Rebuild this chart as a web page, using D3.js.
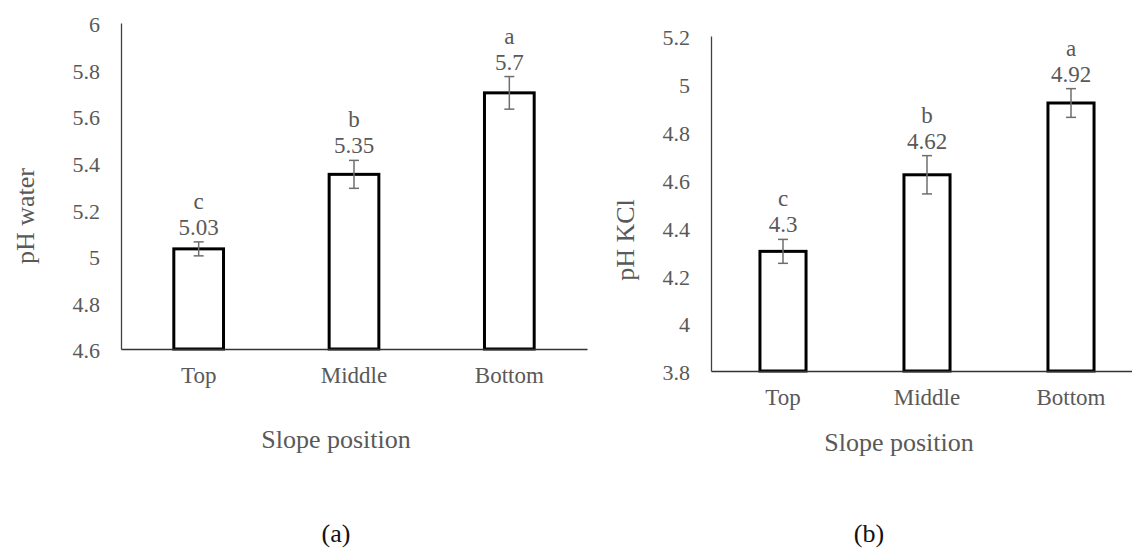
<!DOCTYPE html>
<html>
<head>
<meta charset="utf-8">
<script src="https://cdn.jsdelivr.net/npm/d3@7"></script>
<style>
  html, body { margin: 0; padding: 0; background: #fff; }
  svg text { font-family: "Liberation Serif", "Times New Roman", serif !important; fill: #595959; }
</style>
</head>
<body>
<svg id="chart" width="1132" height="549"></svg>
<script>
// Slope positions shared by both panels
const categories = ["Top", "Middle", "Bottom"];

// Panel (a): soil pH in water
const phWater = [5.03, 5.35, 5.7];
const phWaterErr = [0.03, 0.06, 0.07];
const phWaterLetters = ["c", "b", "a"];
const phWaterTicks = [4.6, 4.8, 5.0, 5.2, 5.4, 5.6, 5.8, 6.0];

// Panel (b): soil pH in KCl
const phKcl = [4.3, 4.62, 4.92];
const phKclErr = [0.05, 0.08, 0.06];
const phKclLetters = ["c", "b", "a"];
const phKclTicks = [3.8, 4.0, 4.2, 4.4, 4.6, 4.8, 5.0, 5.2];

const SERIF = '"Liberation Serif", "Times New Roman", serif';
const svg = d3.select("#chart");

const panels = [
  {
    values: phWater, errs: phWaterErr, letters: phWaterLetters, ticks: phWaterTicks,
    yTitle: "pH water", caption: "(a)",
    x0: 121, x1: 587, yTop: 23, yBase: 349,
    yTitleX: 25, yTitleY: 216, xTitleX: 336, xTitleY: 439, captionX: 336, captionY: 533
  },
  {
    values: phKcl, errs: phKclErr, letters: phKclLetters, ticks: phKclTicks,
    yTitle: "pH KCl", caption: "(b)",
    x0: 711, x1: 1143, yTop: 36, yBase: 371,
    yTitleX: 625, yTitleY: 240, xTitleX: 899, xTitleY: 442, captionX: 869, captionY: 533
  }
];

const fmt = d => String(+d.toFixed(1));

panels.forEach(p => {
  const g = svg.append("g").style("font-family", SERIF);

  const x = d3.scaleBand()
    .domain(categories)
    .range([p.x0, p.x1])
    .paddingInner(0.68)
    .paddingOuter(0.34);

  const y = d3.scaleLinear()
    .domain([p.ticks[0], p.ticks[p.ticks.length - 1]])
    .range([p.yBase, p.yTop]);

  // Y axis: plain line with numeric labels, no tick marks
  const yAxis = g.append("g")
    .attr("transform", `translate(${p.x0},0)`)
    .call(d3.axisLeft(y).tickValues(p.ticks).tickFormat(fmt).tickSize(0).tickPadding(21));
  yAxis.attr("font-family", null);
  yAxis.select(".domain").attr("stroke", "#404040").attr("stroke-width", 1.3);
  yAxis.selectAll("text")
    .attr("font-size", 22)
    .attr("dy", "0.4em")
    .style("font-family", SERIF);

  // Bars: white fill with heavy black outline
  g.selectAll("rect.bar")
    .data(p.values)
    .join("rect")
    .attr("class", "bar")
    .attr("x", (d, i) => x(categories[i]))
    .attr("width", x.bandwidth())
    .attr("y", d => y(d))
    .attr("height", d => y.range()[0] - y(d))
    .attr("fill", "#fff")
    .attr("stroke", "#000")
    .attr("stroke-width", 3);

  // X axis baseline with category labels
  const xAxis = g.append("g")
    .attr("transform", `translate(0,${p.yBase})`)
    .call(d3.axisBottom(x).tickSize(0).tickPadding(18));
  xAxis.attr("font-family", null);
  xAxis.select(".domain").attr("stroke", "#333").attr("stroke-width", 1.5);
  xAxis.selectAll("text")
    .attr("font-size", 23)
    .attr("dy", "0.71em")
    .style("font-family", SERIF);

  // Error bars
  const cap = 5;
  const eb = g.selectAll("g.err")
    .data(p.values.map((v, i) => ({ v, e: p.errs[i], c: categories[i] })))
    .join("g")
    .attr("class", "err")
    .attr("stroke", "#6e6e6e")
    .attr("stroke-width", 1.5);
  eb.append("line")
    .attr("x1", d => x(d.c) + x.bandwidth() / 2)
    .attr("x2", d => x(d.c) + x.bandwidth() / 2)
    .attr("y1", d => y(d.v + d.e))
    .attr("y2", d => y(d.v - d.e));
  eb.append("line")
    .attr("x1", d => x(d.c) + x.bandwidth() / 2 - cap)
    .attr("x2", d => x(d.c) + x.bandwidth() / 2 + cap)
    .attr("y1", d => y(d.v + d.e))
    .attr("y2", d => y(d.v + d.e));
  eb.append("line")
    .attr("x1", d => x(d.c) + x.bandwidth() / 2 - cap)
    .attr("x2", d => x(d.c) + x.bandwidth() / 2 + cap)
    .attr("y1", d => y(d.v - d.e))
    .attr("y2", d => y(d.v - d.e));

  // Value labels and significance letters above each error bar
  p.values.forEach((v, i) => {
    const cx = x(categories[i]) + x.bandwidth() / 2;
    const top = y(v + p.errs[i]);
    g.append("text")
      .attr("x", cx).attr("y", top - 14.5)
      .attr("text-anchor", "middle")
      .attr("dominant-baseline", "central")
      .attr("font-size", 23)
      .text(String(v));
    g.append("text")
      .attr("x", cx).attr("y", top - 40.5)
      .attr("text-anchor", "middle")
      .attr("dominant-baseline", "central")
      .attr("font-size", 23)
      .text(p.letters[i]);
  });

  // Axis titles
  g.append("text")
    .attr("transform", `translate(${p.yTitleX},${p.yTitleY}) rotate(-90)`)
    .attr("text-anchor", "middle")
    .attr("dominant-baseline", "central")
    .attr("font-size", 26)
    .text(p.yTitle);
  g.append("text")
    .attr("x", p.xTitleX).attr("y", p.xTitleY)
    .attr("text-anchor", "middle")
    .attr("dominant-baseline", "central")
    .attr("font-size", 26)
    .text("Slope position");

  // Panel caption
  g.append("text")
    .attr("x", p.captionX).attr("y", p.captionY)
    .attr("text-anchor", "middle")
    .attr("dominant-baseline", "central")
    .attr("font-size", 26)
    .style("fill", "#111")
    .text(p.caption);
});
</script>
</body>
</html>
